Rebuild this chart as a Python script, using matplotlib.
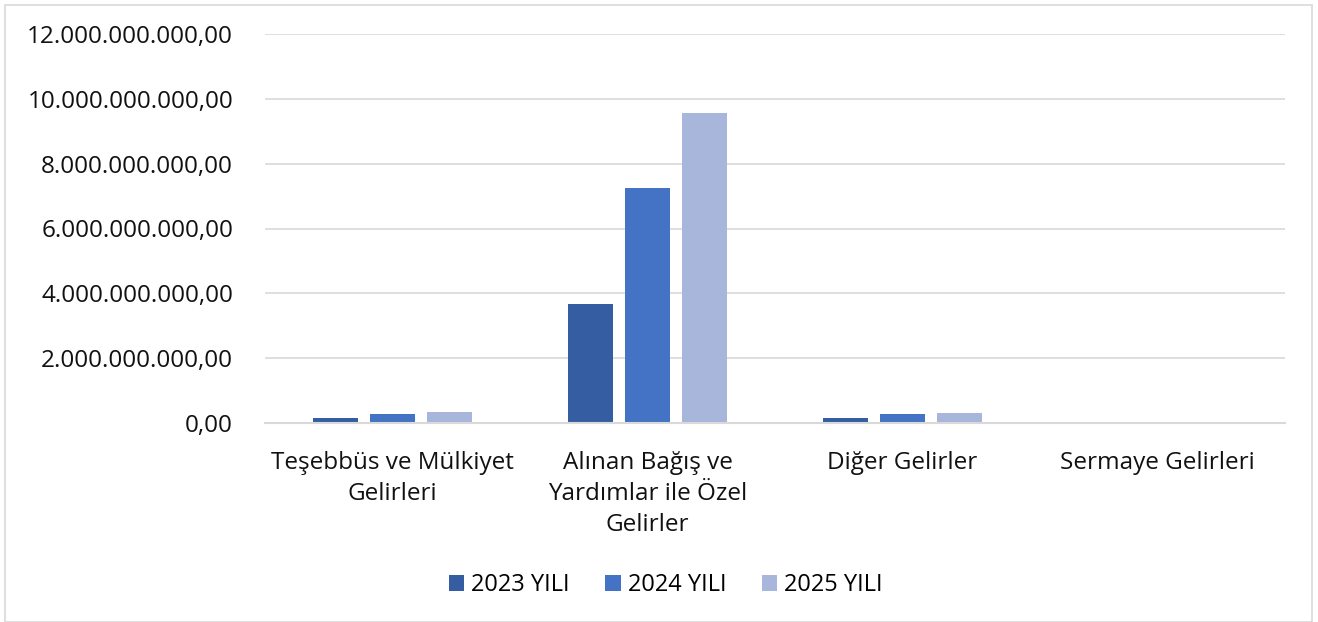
import numpy as np
import matplotlib.pyplot as plt
from matplotlib.patches import Rectangle
from matplotlib.ticker import FuncFormatter

categories = ['Teşebbüs ve Mülkiyet\nGelirleri',
              'Alınan Bağış ve\nYardımlar ile Özel\nGelirler',
              'Diğer Gelirler',
              'Sermaye Gelirleri']
series_names = ['2023 YILI', '2024 YILI', '2025 YILI']
v2023 = [0.15e9, 3.67e9, 0.14e9, 0.0]
v2024 = [0.28e9, 7.25e9, 0.28e9, 0.0]
v2025 = [0.34e9, 9.56e9, 0.32e9, 0.0]
colors = ['#345DA2', '#4472C4', '#A9B6DB']

plt.rcParams['font.family'] = ['Open Sans', 'DejaVu Sans']

fig = plt.figure(figsize=(13.18, 6.22), dpi=100)
ax = fig.add_axes([265 / 1318, 1 - 423 / 622, 1020 / 1318, 389 / 622])

x = np.arange(len(categories))
w = 0.176
step = 0.2235
for i, (vals, name) in enumerate(zip([v2023, v2024, v2025], series_names)):
    ax.bar(x + (i - 1) * step, vals, width=w, color=colors[i], label=name, zorder=3)

ax.set_xlim(-0.5, len(categories) - 0.5)
ax.set_ylim(0, 12e9)
ax.set_yticks(np.arange(0, 12.01e9, 2e9))

def tr_fmt(v, pos):
    s = f'{v:,.2f}'
    return s.replace(',', 'X').replace('.', ',').replace('X', '.')

ax.yaxis.set_major_formatter(FuncFormatter(tr_fmt))
ax.grid(axis='y', color='#D9D9D9', linewidth=1.2, zorder=0)
for s in ['top', 'right', 'left']:
    ax.spines[s].set_visible(False)
ax.spines['bottom'].set_color('#D9D9D9')
ax.spines['bottom'].set_linewidth(1.5)
ax.spines['bottom'].set_zorder(4)
ax.tick_params(axis='both', length=0, labelsize=17.5, colors='#111111')
ax.tick_params(axis='y', pad=23)
ax.tick_params(axis='x', pad=20)
ax.set_xticks(x)
ax.set_xticklabels(categories, linespacing=1.4)

fig.legend(loc='center', bbox_to_anchor=(666 / 1318, 1 - 585 / 622), ncol=3,
           frameon=False, fontsize=17, handlelength=0.65, handleheight=0.65,
           handletextpad=0.3, columnspacing=1.5)

fig.patches.append(Rectangle((5 / 1318, 0), 1307 / 1318, 1 - 5 / 622,
                             transform=fig.transFigure, fill=False,
                             edgecolor='#D9D9D9', linewidth=1.2))

fig.savefig('out.png', dpi=100)
